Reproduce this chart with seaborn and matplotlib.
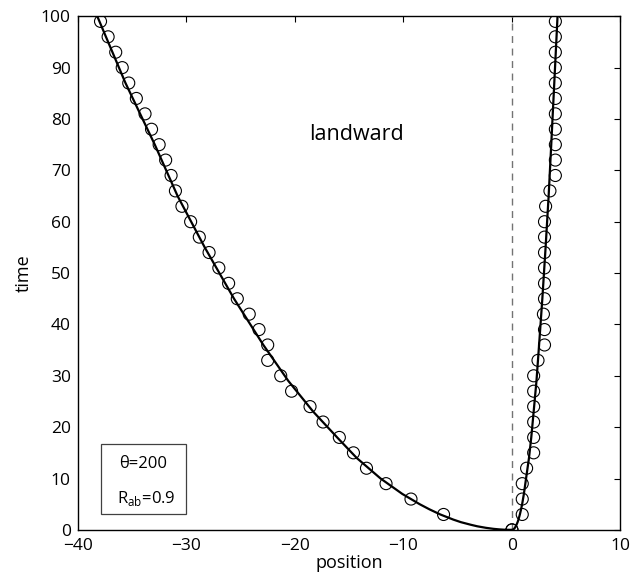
import numpy as np
import pandas as pd
import seaborn as sns
import matplotlib.pyplot as plt
from matplotlib.patches import Rectangle

sns.set_style("white")
plt.rcParams['font.family'] = ['Open Sans', 'DejaVu Sans']
plt.rcParams['mathtext.fontset'] = 'custom'
plt.rcParams['mathtext.rm'] = 'Open Sans'
plt.rcParams['text.color'] = 'black'
plt.rcParams['axes.labelcolor'] = 'black'
plt.rcParams['xtick.color'] = 'black'
plt.rcParams['ytick.color'] = 'black'

# observed positions (circles), sampled every 3 time units
obs_time = [0, 3, 6, 9, 12, 15, 18, 21, 24, 27, 30, 33, 36, 39, 42, 45, 48,
            51, 54, 57, 60, 63, 66, 69, 72, 75, 78, 81, 84, 87, 90, 93, 96, 99]
obs_left = [0.0, -6.3, -9.3, -11.6, -13.4, -14.6, -15.9, -17.4, -18.6, -20.3,
            -21.3, -22.5, -22.5, -23.3, -24.2, -25.3, -26.1, -27.0, -27.9,
            -28.8, -29.6, -30.4, -31.0, -31.4, -31.9, -32.5, -33.2, -33.8,
            -34.6, -35.3, -35.9, -36.5, -37.2, -37.9]
obs_right = [0.0, 0.95, 0.95, 0.95, 1.35, 2.0, 2.0, 2.0, 2.0, 2.0, 2.0, 2.4,
             3.0, 3.0, 2.9, 3.0, 3.0, 3.0, 3.0, 3.0, 3.0, 3.1, 3.5, 4.0, 4.0,
             4.0, 4.0, 4.0, 4.0, 4.0, 4.0, 4.0, 4.0, 4.0]

# model curves (solid lines)
fit_time = [0, 0.03, 0.1, 0.2, 0.4, 0.7, 1, 1.5, 2, 3, 4, 5, 7, 10, 14, 18,
            23, 29, 36, 45, 55, 65, 75, 87, 100]
fit_left = [0.0, -0.7, -1.2, -1.7, -2.4, -3.2, -3.8, -4.7, -5.4, -6.6, -7.6,
            -8.5, -10.1, -12.1, -14.3, -16.1, -18.3, -20.6, -22.9, -25.6,
            -28.3, -30.8, -32.9, -35.6, -38.2]
fit_right = [0.0, 0.07, 0.13, 0.19, 0.27, 0.35, 0.42, 0.52, 0.6, 0.73, 0.84,
             0.94, 1.1, 1.3, 1.57, 1.78, 2.0, 2.26, 2.5, 2.8, 3.1, 3.38, 3.62,
             3.9, 4.2]

obs = pd.DataFrame({"time": obs_time * 2, "position": obs_left + obs_right})

fig, ax = plt.subplots(figsize=(6.34, 5.81), dpi=100)
fig.subplots_adjust(left=0.1226, right=0.9787, bottom=0.088, top=0.972)

ax.axvline(0, color="0.45", lw=1.0, ls=(0, (5, 4)), zorder=1)

sns.lineplot(x=fit_left, y=fit_time, sort=False, estimator=None, color="black",
             lw=1.6, ax=ax, zorder=3)
sns.lineplot(x=fit_right, y=fit_time, sort=False, estimator=None, color="black",
             lw=1.6, ax=ax, zorder=3)
sns.scatterplot(data=obs, x="position", y="time", marker="o", s=75,
                facecolors="none", edgecolor="black", linewidth=0.8, ax=ax,
                zorder=4)

ax.set_xlim(-40, 10)
ax.set_ylim(0, 100)
ax.set_xticks(np.arange(-40, 11, 10))
ax.set_yticks(np.arange(0, 101, 10))
ax.tick_params(direction="in", length=4, width=0.8, labelsize=12.5,
               top=True, right=True)
ax.tick_params(axis="x", pad=6)
ax.tick_params(axis="y", pad=5)
for s in ax.spines.values():
    s.set_visible(True)
    s.set_color("black")
    s.set_linewidth(1.0)

ax.set_xlabel("position", fontsize=13, labelpad=0)
ax.set_ylabel("time", fontsize=13, labelpad=6)

ax.text(-14.3, 77, "landward", fontsize=15.5, ha="center", va="center")

ax.add_patch(Rectangle((-37.9, 3.1), 7.9, 13.6, fill=False, edgecolor="0.25",
                       lw=0.9, zorder=5))
ax.text(-34.0, 12.9, "θ=200", fontsize=12, ha="center", va="center")
ax.text(-33.7, 6.2, r"R$_\mathregular{ab}$=0.9", fontsize=12, ha="center",
        va="center")

fig.savefig("out.png", dpi=100)
